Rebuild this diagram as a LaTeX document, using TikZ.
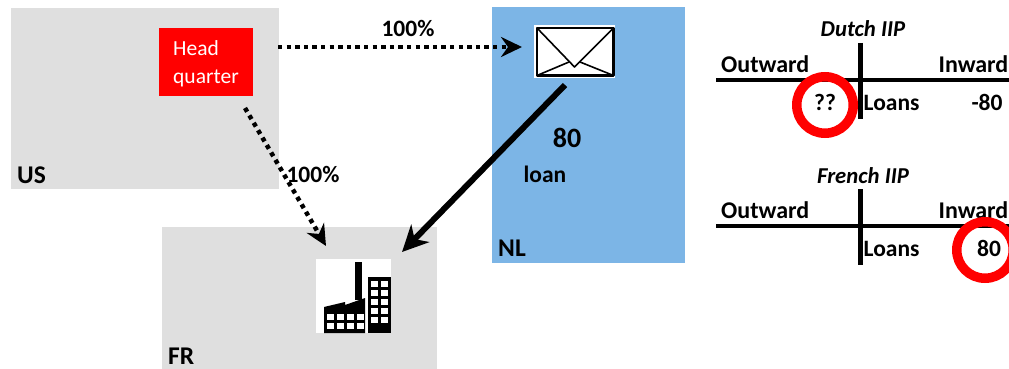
\documentclass[tikz,border=0pt]{standalone}
\usepackage{fontspec}
\setmainfont{Carlito}
\usetikzlibrary{arrows.meta}
\tikzset{
  x=1pt,y=-1pt,
  lbl/.style={font=\bfseries\fontsize{24}{26}\selectfont,inner sep=0pt,text=black},
  corner/.style={font=\bfseries\fontsize{25.5}{28}\selectfont,inner sep=0pt,text=black},
  small/.style={font=\bfseries\fontsize{23.5}{26}\selectfont,inner sep=0pt,text=black},
  ttl/.style={font=\bfseries\itshape\fontsize{22.7}{26}\selectfont,inner sep=0pt,text=black},
  hqtext/.style={font=\fontsize{21.5}{26}\selectfont,text=white,anchor=base west,inner sep=0pt},
  dotarrow/.style={line width=4.5pt,dash pattern=on 4.3pt off 4.3pt,-{Stealth[length=21pt,width=20pt,inset=7pt]}},
  thickarrow/.style={line width=6pt,-{Stealth[length=26pt,width=25pt,inset=8pt]}},
  axis/.style={line width=3.5pt},
  vaxis/.style={line width=5pt},
  ring/.style={circle,draw=ringred,line width=9.5pt,minimum size=56.5pt,inner sep=0pt}
}
\definecolor{regiongray}{HTML}{DFDFDF}
\definecolor{nlblue}{HTML}{7CB5E6}
\definecolor{ringred}{HTML}{FF0000}
\begin{document}
\begin{tikzpicture}
\useasboundingbox (0,0) rectangle (1009,369);
% regions
\fill[regiongray] (11,8) rectangle (279,189);
\fill[regiongray] (162,227) rectangle (437,369);
\fill[nlblue] (492,7) rectangle (685,263);
\node[corner,anchor=base west] (us) at (17,183) {US};
\node[corner,anchor=base west] (fr) at (168,364.5) {FR};
\node[corner,anchor=base west] (nl) at (498,256) {NL};
% headquarter
\node[fill=ringred,minimum width=94pt,minimum height=68pt,inner sep=0pt,anchor=north west] (hq) at (159,28) {};
\node[hqtext] (hq1) at (173,56) {Head};
\node[hqtext] (hq2) at (173,83) {quarter};
% envelope
\node[fill=white,minimum width=81pt,minimum height=53pt,inner sep=0pt,anchor=north west] (env) at (534,25) {};
\draw[line width=2.2pt,line join=round] (537,28) rectangle (613.5,75.5);
\draw[line width=1.6pt,line join=round] (537,28) -- (574.5,67) -- (613.5,28);
\draw[line width=1.6pt] (537,75.5) -- (569,62);
\draw[line width=1.6pt] (613.5,75.5) -- (580,62);
% factory
\node[fill=white,minimum width=75pt,minimum height=74pt,inner sep=0pt,anchor=north west] (fac) at (316,259) {};
\fill[black] (355,262) rectangle (362,300);
\fill[black] (368,277) rectangle (391,333);
\fill[black] (324,333) -- (324,307) -- (345,302) -- (345,305) -- (365,298) -- (365,333) -- cycle;
\foreach \yy in {281,290,299,308,317}{
  \fill[white] (371,\yy) rectangle (378,\yy+6);
  \fill[white] (381,\yy) rectangle (388,\yy+6);
}
\foreach \yy in {314,323}{
  \foreach \xx in {327,337,347,357}{
    \fill[white] (\xx,\yy) rectangle (\xx+6.5,\yy+6);
  }
}
% connectors
\coordinate (a1) at (278,47);
\coordinate (a2) at (522,47);
\coordinate (b1) at (245,108);
\coordinate (b2) at (326,246);
\coordinate (c1) at (565,85);
\coordinate (c2) at (402,252);
\draw[dotarrow] (a1) -- (a2);
\draw[dotarrow] (b1) -- (b2);
\draw[thickarrow] (c1) -- (c2);
\node[small,anchor=base] (p1) at (408,37) {100\%};
\node[small,anchor=base] (p2) at (313,182.5) {100\%};
\node[font=\bfseries\fontsize{28}{30}\selectfont,inner sep=0pt,anchor=base] (n80) at (567,147) {80};
\node[small,anchor=base] (lo) at (545,182) {loan};
% Dutch IIP
\node[ttl,anchor=base] (t1) at (863,37) {Dutch IIP};
\coordinate (d1) at (716,80);
\coordinate (d2) at (1009,80);
\coordinate (d3) at (860,43);
\coordinate (d4) at (860,119);
\draw[axis] (d1) -- (d2);
\draw[vaxis] (d3) -- (d4);
\node[lbl,anchor=base west] (o1) at (721,72.5) {Outward};
\node[lbl,anchor=base east] (i1) at (1008.5,72.5) {Inward};
\node[ring] (r1) at (825,105) {};
\node[small,anchor=base] (q) at (825,110.5) {??};
\node[small,anchor=base west] (l1) at (863.5,110.5) {Loans};
\node[small,anchor=base] (m80) at (987,110.5) {-80};
% French IIP
\node[ttl,anchor=base] (t2) at (863,183) {French IIP};
\coordinate (f1) at (716,226);
\coordinate (f2) at (1009,226);
\coordinate (f3) at (860,189);
\coordinate (f4) at (860,265);
\draw[axis] (f1) -- (f2);
\draw[vaxis] (f3) -- (f4);
\node[lbl,anchor=base west] (o2) at (721,218.5) {Outward};
\node[lbl,anchor=base east] (i2) at (1008.5,218.5) {Inward};
\node[ring] (r2) at (985,250) {};
\node[small,anchor=base west] (l2) at (863.5,256.5) {Loans};
\node[small,anchor=base] (p80) at (989,256.5) {80};
\end{tikzpicture}
\end{document}
